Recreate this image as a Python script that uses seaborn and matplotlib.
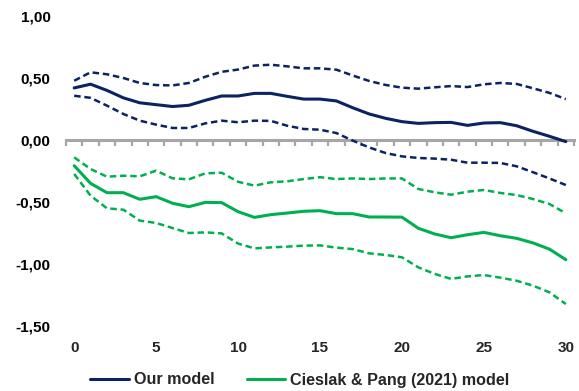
import numpy as np
import pandas as pd
import seaborn as sns
import matplotlib
matplotlib.use("Agg")
import matplotlib.pyplot as plt
from matplotlib.lines import Line2D
from matplotlib.ticker import FuncFormatter

# horizons 0..30
horizon = list(range(31))

# Our model: estimate and confidence bands
our_est = [0.42, 0.45, 0.40, 0.34, 0.30, 0.285, 0.27, 0.28, 0.32, 0.355, 0.355,
           0.376, 0.376, 0.352, 0.33, 0.33, 0.315, 0.26, 0.21, 0.175, 0.148,
           0.134, 0.14, 0.142, 0.118, 0.137, 0.14, 0.115, 0.07, 0.03, -0.013]
our_up = [0.478, 0.546, 0.53, 0.50, 0.46, 0.443, 0.44, 0.46, 0.51, 0.55, 0.568,
          0.60, 0.607, 0.594, 0.578, 0.578, 0.567, 0.52, 0.476, 0.444, 0.422,
          0.414, 0.425, 0.435, 0.427, 0.449, 0.46, 0.452, 0.417, 0.38, 0.33]
our_lo = [0.357, 0.34, 0.277, 0.21, 0.156, 0.124, 0.097, 0.097, 0.134, 0.156, 0.143,
          0.156, 0.154, 0.115, 0.089, 0.083, 0.056, -0.005, -0.06, -0.105, -0.132,
          -0.145, -0.15, -0.159, -0.183, -0.183, -0.185, -0.212, -0.26, -0.31, -0.363]

# Cieslak & Pang (2021) model
cp_est = [-0.207, -0.35, -0.425, -0.425, -0.478, -0.457, -0.51, -0.538, -0.503, -0.505, -0.578,
          -0.624, -0.602, -0.589, -0.575, -0.57, -0.594, -0.594, -0.621, -0.621, -0.622,
          -0.712, -0.758, -0.788, -0.764, -0.745, -0.772, -0.793, -0.83, -0.88, -0.965]
cp_up = [-0.14, -0.234, -0.296, -0.288, -0.293, -0.247, -0.309, -0.317, -0.269, -0.264, -0.337,
         -0.368, -0.341, -0.333, -0.315, -0.30, -0.315, -0.31, -0.315, -0.31, -0.31,
         -0.395, -0.422, -0.441, -0.417, -0.403, -0.427, -0.444, -0.476, -0.516, -0.591]
cp_lo = [-0.274, -0.449, -0.551, -0.562, -0.65, -0.669, -0.71, -0.75, -0.745, -0.753, -0.835,
         -0.874, -0.866, -0.86, -0.852, -0.85, -0.868, -0.88, -0.914, -0.927, -0.946,
         -1.027, -1.08, -1.12, -1.10, -1.089, -1.11, -1.135, -1.175, -1.228, -1.323]

models = ["Our model", "Cieslak & Pang (2021) model"]
colors = {"Our model": "#0B2263", "Cieslak & Pang (2021) model": "#00B050"}

series = {
    ("Our model", "estimate"): our_est,
    ("Our model", "upper"): our_up,
    ("Our model", "lower"): our_lo,
    ("Cieslak & Pang (2021) model", "estimate"): cp_est,
    ("Cieslak & Pang (2021) model", "upper"): cp_up,
    ("Cieslak & Pang (2021) model", "lower"): cp_lo,
}
rows = []
for (m, b), vals in series.items():
    for h, v in zip(horizon, vals):
        rows.append({"horizon": h, "value": v, "model": m, "band": b})
df = pd.DataFrame(rows)

sns.set_style("white")
plt.rcParams["font.family"] = ["Liberation Sans", "DejaVu Sans"]
plt.rcParams["font.weight"] = "bold"

fig = plt.figure(figsize=(5.79, 3.91), dpi=100)
ax = fig.add_axes([66 / 579, 1 - 326 / 391, 508 / 579, 310 / 391])

sns.lineplot(data=df, x="horizon", y="value", hue="model", style="band", size="band",
             hue_order=models, palette=colors,
             dashes={"estimate": "", "upper": (2.6, 1.5), "lower": (2.6, 1.5)},
             sizes={"estimate": 2.2, "upper": 1.8, "lower": 1.8},
             errorbar=None, legend=False, ax=ax, zorder=3)

ax.set_xlim(-0.5, 30.5)
ax.set_ylim(-1.5, 1.0)
ax.set_xlabel("")
ax.set_ylabel("")

for s in ["left", "top", "right"]:
    ax.spines[s].set_visible(False)
ax.spines["bottom"].set_position(("data", 0))
ax.spines["bottom"].set_color("#A6A6A6")
ax.spines["bottom"].set_linewidth(2.2)
ax.spines["bottom"].set_zorder(2)
ax.set_xticks(np.arange(-0.5, 31, 1))
ax.tick_params(axis="x", bottom=True, direction="out", length=4, width=1.6,
               color="#A6A6A6", labelbottom=False)

ax.set_yticks([1.0, 0.5, 0.0, -0.5, -1.0, -1.5])
ax.yaxis.set_major_formatter(FuncFormatter(lambda v, p: f"{v:.2f}".replace(".", ",")))
ax.tick_params(axis="y", length=0, pad=11, labelsize=11, labelcolor="black")
for t in ax.get_yticklabels():
    t.set_fontweight("bold")

sec = ax.secondary_xaxis("bottom")
sec.set_xticks(range(0, 31, 5))
sec.spines["bottom"].set_visible(False)
sec.tick_params(length=0, pad=11, labelsize=11)
for t in sec.get_xticklabels():
    t.set_fontweight("bold")

handles = [Line2D([], [], color=colors[m], lw=2.2) for m in models]
fig.legend(handles, models, loc="center", bbox_to_anchor=(300 / 579, 1 - 380 / 391),
           ncol=2, frameon=False, handlelength=2.4, handletextpad=0.3,
           columnspacing=2.0, prop={"size": 11.6, "weight": "bold"})

fig.savefig("out.png", dpi=100)
